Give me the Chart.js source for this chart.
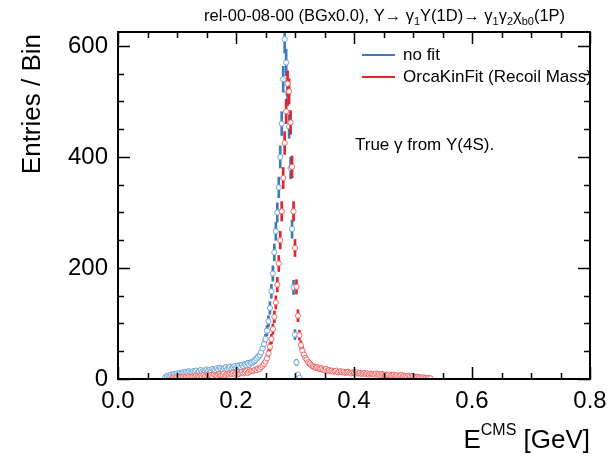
<!DOCTYPE html>
<html>
<head>
<meta charset="utf-8">
<script src="https://cdn.jsdelivr.net/npm/chart.js@4/dist/chart.umd.min.js"></script>
<style>
  html, body { margin: 0; padding: 0; background: #fff; }
  #wrap { width: 615px; height: 459px; }
</style>
</head>
<body>
<div id="wrap"><canvas id="hist" width="615" height="459"></canvas></div>
<script>
// histogram binning (GeV)
const binWidth = 0.0025;

// "no fit" : first bin centre and entries per bin
const noFitStart = 0.08;
const noFitCounts = [
  3, 5, 6, 5, 8, 7, 9, 8, 10, 9,
  11, 10, 12, 11, 13, 12, 14, 12, 11, 14,
  13, 15, 12, 14, 16, 13, 15, 14, 17, 15,
  16, 14, 18, 16, 15, 19, 17, 20, 18, 16,
  19, 21, 18, 20, 22, 19, 21, 23, 20, 22,
  24, 22, 25, 23, 26, 25, 28, 26, 29, 30,
  32, 34, 37, 40, 43, 48, 55, 63, 72, 87,
  104, 128, 158, 190, 228, 266, 300, 345, 400, 460,
  540, 612, 570, 515, 455, 380, 270, 165, 80, 30,
  8, 2, 0
];

// "OrcaKinFit (Recoil Mass)"
const fitStart = 0.09;
const fitCounts = [
  1, 2, 1, 3, 2, 2, 4, 3, 3, 2,
  4, 3, 5, 4, 3, 5, 4, 6, 5, 4,
  6, 5, 7, 5, 6, 8, 6, 7, 5, 8,
  7, 6, 8, 9, 7, 8, 10, 7, 9, 8,
  10, 9, 11, 8, 10, 12, 9, 11, 13, 10,
  12, 14, 11, 13, 15, 14,
  15, 17, 16, 19, 18, 21, 24, 27, 31, 37,
  46, 58, 72, 90, 112, 138, 170, 208, 250, 302,
  362, 425, 482, 532, 518, 462, 382, 302, 236, 166,
  114, 79, 61, 51, 44, 38, 35, 30, 28, 25,
  23,
  22, 20, 21, 19, 18, 19, 17, 16, 18, 15,
  16, 14, 15, 13, 14, 15, 12, 13, 14, 12,
  13, 11, 12, 13, 11, 10, 12, 11, 10, 12,
  10, 11, 9, 10, 11, 9, 10, 8, 10, 9,
  9, 8, 10, 8, 9, 7, 9, 8, 7, 8,
  7, 8, 6, 7, 8, 6, 7, 5, 6, 7,
  5, 6, 5, 4, 6, 5, 4, 5, 3, 4,
  4, 3, 3, 2, 3, 2, 2, 1, 2, 1
];

const xTickValues = [0, 0.2, 0.4, 0.6, 0.8];
const yTickValues = [0, 200, 400, 600];
const xMax = 0.8;
const yMax = 625;

const blue = '#3a7cbf', blueLight = '#6fa6da';
const red = '#e3242b', redLight = '#ee6666';
const FONT = '"Liberation Sans", Arial, Helvetica, sans-serif';

function points(start, counts) {
  const out = [];
  counts.forEach((c, i) => {
    if (c > 0) out.push({ x: +(start + i * binWidth).toFixed(4), y: c });
  });
  return out;
}
function errors(start, counts) {
  const out = [];
  counts.forEach((c, i) => {
    if (c > 0) {
      const e = Math.sqrt(c);
      out.push({ x: +(start + i * binWidth).toFixed(4), y: [Math.max(0, c - e), c + e] });
    }
  });
  return out;
}

// frame with ROOT style ticks on all four sides
const frame = {
  id: 'frame',
  afterDatasetsDraw(chart) {
    const { ctx, chartArea: a, scales: { x, y } } = chart;
    ctx.save();
    ctx.strokeStyle = '#000';
    ctx.lineWidth = 1.5;
    ctx.beginPath();
    for (let i = 0; i <= 16; i++) {
      const v = i * 0.05;
      const px = Math.round(x.getPixelForValue(v)) + 0.5;
      const len = i % 4 === 0 ? 12 : 6;
      ctx.moveTo(px, a.bottom); ctx.lineTo(px, a.bottom - len);
      ctx.moveTo(px, a.top); ctx.lineTo(px, a.top + len);
    }
    for (let v = 0; v <= yMax; v += 50) {
      const py = Math.round(y.getPixelForValue(v)) + 0.5;
      const len = v % 200 === 0 ? 12 : 6;
      ctx.moveTo(a.left, py); ctx.lineTo(a.left + len, py);
      ctx.moveTo(a.right, py); ctx.lineTo(a.right - len, py);
    }
    ctx.stroke();
    ctx.lineWidth = 2;
    ctx.strokeRect(a.left, a.top, a.right - a.left, a.bottom - a.top);
    ctx.restore();
  },
  afterDraw(chart) {
    const { ctx, chartArea: a } = chart;
    ctx.save();
    ctx.fillStyle = '#000';
    ctx.textBaseline = 'alphabetic';

    // title with sub scripts
    const parts = [
      ['rel-00-08-00 (BGx0.0), Y\u2192 \u03b3', 0], ['1', 1], ['Y(1D)\u2192 \u03b3', 0], ['1', 1],
      ['\u03b3', 0], ['2', 1], ['\u03c7', 0], ['b0', 1], ['(1P)', 0]
    ];
    let tx = 204;
    parts.forEach(([t, sub]) => {
      ctx.font = (sub ? '11px ' : '16.5px ') + FONT;
      ctx.fillText(t, tx, sub ? 25 : 21);
      tx += ctx.measureText(t).width;
    });

    // legend
    ctx.lineWidth = 2;
    [[blue, 'no fit', 55], [red, 'OrcaKinFit (Recoil Mass)', 77]].forEach(([c, t, ly]) => {
      ctx.strokeStyle = c;
      ctx.beginPath(); ctx.moveTo(362, ly); ctx.lineTo(395, ly); ctx.stroke();
      ctx.font = '17px ' + FONT;
      ctx.textBaseline = 'middle';
      ctx.fillText(t, 403, ly);
    });

    ctx.font = '17px ' + FONT;
    ctx.textBaseline = 'middle';
    ctx.fillText('True \u03b3 from Y(4S).', 355, 145);

    // axis titles
    ctx.font = '26px ' + FONT;
    ctx.textBaseline = 'alphabetic';
    ctx.save();
    ctx.translate(40, 34);
    ctx.rotate(-Math.PI / 2);
    ctx.textAlign = 'right';
    ctx.fillText('Entries / Bin', 0, 0);
    ctx.restore();

    const tail = ' [GeV]';
    ctx.font = '26px ' + FONT;
    const wTail = ctx.measureText(tail).width;
    const wE = ctx.measureText('E').width;
    ctx.font = '16px ' + FONT;
    const wSup = ctx.measureText('CMS').width;
    let ex = a.right - wTail - wSup - wE;
    ctx.font = '26px ' + FONT;
    ctx.fillText('E', ex, 448);
    ctx.font = '16px ' + FONT;
    ctx.fillText('CMS', ex + wE, 435);
    ctx.font = '26px ' + FONT;
    ctx.fillText(tail, ex + wE + wSup, 448);
    ctx.restore();
  }
};

new Chart(document.getElementById('hist').getContext('2d'), {
  type: 'scatter',
  data: {
    datasets: [
      {
        type: 'bar', label: 'no fit err', data: errors(noFitStart, noFitCounts),
        backgroundColor: blue, barThickness: 2, grouped: false, order: 4
      },
      {
        type: 'scatter', label: 'no fit', data: points(noFitStart, noFitCounts),
        pointRadius: 2.6, pointBorderWidth: 1, pointBackgroundColor: '#fff',
        pointBorderColor: blueLight, showLine: false, order: 3
      },
      {
        type: 'bar', label: 'fit err', data: errors(fitStart, fitCounts),
        backgroundColor: red, barThickness: 2, grouped: false, order: 2
      },
      {
        type: 'scatter', label: 'OrcaKinFit (Recoil Mass)', data: points(fitStart, fitCounts),
        pointRadius: 2.6, pointBorderWidth: 1, pointBackgroundColor: '#fff',
        pointBorderColor: redLight, showLine: false, order: 1
      }
    ]
  },
  options: {
    responsive: false,
    animation: false,
    layout: { padding: { top: 32, right: 25, left: 0, bottom: 0 } },
    plugins: { legend: { display: false }, tooltip: { enabled: false } },
    scales: {
      x: {
        type: 'linear', min: 0, max: xMax, offset: false,
        grid: { display: false, drawTicks: false },
        border: { display: false },
        afterFit: s => { s.height = 80; },
        afterBuildTicks: s => { s.ticks = xTickValues.map(v => ({ value: v })); },
        ticks: {
          padding: 8, color: '#000', maxRotation: 0, autoSkip: false,
          font: { family: FONT, size: 24 },
          callback: v => v.toFixed(1)
        }
      },
      y: {
        type: 'linear', min: 0, max: yMax,
        grid: { display: false, drawTicks: false },
        border: { display: false },
        afterFit: s => { s.width = 118; },
        afterBuildTicks: s => { s.ticks = yTickValues.map(v => ({ value: v })); },
        ticks: {
          padding: 10, color: '#000',
          font: { family: FONT, size: 24 },
          callback: v => String(v)
        }
      }
    }
  },
  plugins: [frame]
});
</script>
</body>
</html>
